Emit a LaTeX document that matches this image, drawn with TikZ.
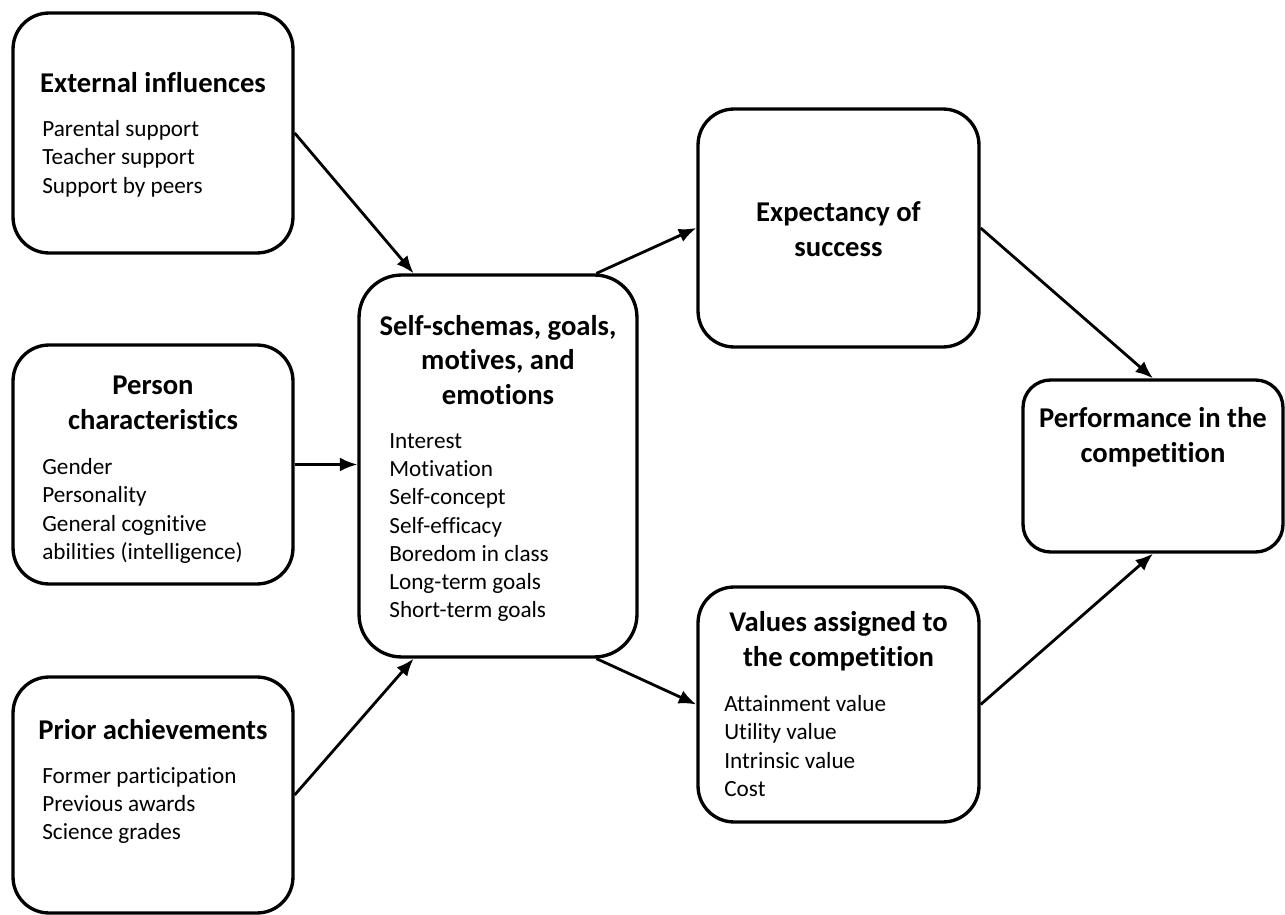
\documentclass[tikz,border=0pt]{standalone}
\usepackage{fontspec}
\setmainfont{Carlito}[Ligatures=NoCommon]
\usetikzlibrary{shapes,arrows,arrows.meta,positioning,calc}

\tikzset{
  block/.style={draw=black, line width=1.9pt, rounded corners=0.72cm},
  head/.style={font=\fontsize{16.3}{19.6}\selectfont\bfseries, align=center, inner sep=0pt},
  items/.style={font=\fontsize{13.2}{16.1}\selectfont, align=left, inner sep=0pt, anchor=north west},
  link/.style={-{Latex[length=10pt,width=8pt]}, line width=1.6pt}
}

\begin{document}
\begin{tikzpicture}[x=0.02cm, y=-0.02cm]
            % page is 1285 x 915 (one unit = one pixel)
            \useasboundingbox (0,0) rectangle (1285,915);

            % left column
            \node[block, minimum width=5.6cm, minimum height=4.8cm] (ext) at (153,133) {};
            \node[block, minimum width=5.6cm, minimum height=4.78cm] (per) at (153,464.5) {};
            \node[block, minimum width=5.6cm, minimum height=4.72cm] (pri) at (153,795) {};

            \node[head] (ext-t) at (153,83) {External influences};
            \node[items] (ext-l) at (42,120) {Parental support\\Teacher support\\Support by peers};

            \node[head] (per-t) at (153,403) {Person\\characteristics};
            \node[items] (per-l) at (42,458) {Gender\\Personality\\General cognitive\\abilities (intelligence)};

            \node[head] (pri-t) at (153,730) {Prior achievements};
            \node[items] (pri-l) at (42,767) {Former participation\\Previous awards\\Science grades};

            % middle
            \node[block, rounded corners=0.85cm, minimum width=5.56cm, minimum height=7.64cm] (self) at (498,466) {};
            \node[head] (self-t) at (498,360) {Self-schemas, goals,\\motives, and\\emotions};
            \node[items] (self-l) at (389,433) {Interest\\Motivation\\Self-concept\\Self-efficacy\\Boredom in class\\Long-term goals\\Short-term goals};

            % right column
            \node[block, minimum width=5.62cm, minimum height=4.76cm] (exp) at (838.5,228) {};
            \node[head] (exp-t) at (838.5,229) {Expectancy of\\success};

            \node[block, minimum width=5.62cm, minimum height=4.7cm] (val) at (838.5,704.5) {};
            \node[head] (val-t) at (838.5,641) {Values assigned to\\the competition};
            \node[items] (val-l) at (724,695) {Attainment value\\Utility value\\Intrinsic value\\Cost};

            \node[block, rounded corners=0.55cm, minimum width=5.2cm, minimum height=3.44cm] (perf) at (1153,466) {};
            \node[head] (perf-t) at (1153,437) {Performance in the\\competition};

            % connectors
            \draw[link] (ext.east) -- ($(self.north west)!0.2!(self.north east)$);
            \draw[link] (per.east) -- (per.east -| self.west);
            \draw[link] (pri.east) -- ($(self.south west)!0.2!(self.south east)$);
            \draw[link] ($(self.north west)!0.85!(self.north east)$) -- (exp.west);
            \draw[link] ($(self.south west)!0.85!(self.south east)$) -- (val.west);
            \draw[link] (exp.east) -- (perf.north);
            \draw[link] (val.east) -- (perf.south);
        \end{tikzpicture}
\end{document}
